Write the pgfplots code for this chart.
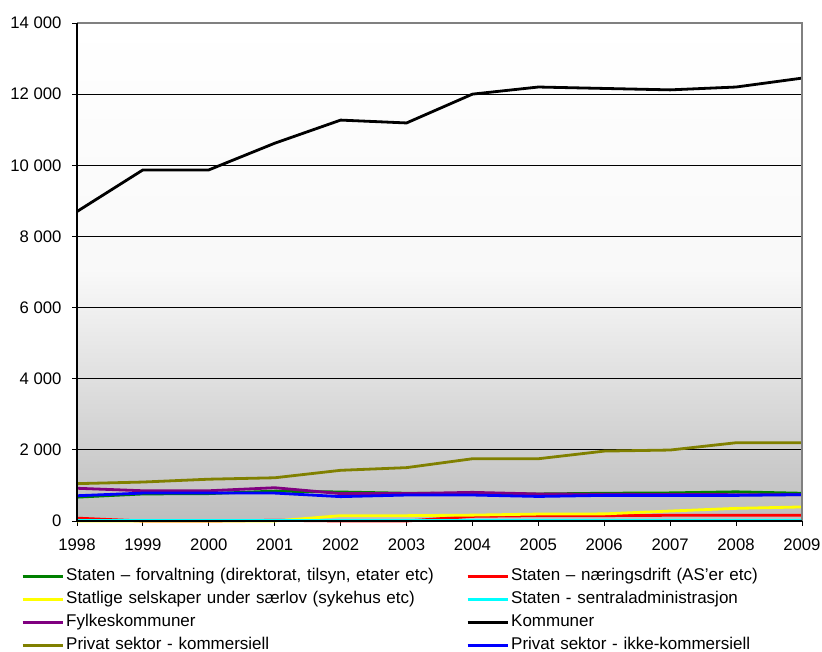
\documentclass[border=0pt]{standalone}
\usepackage{fontspec}
\setmainfont{Liberation Sans}
\usepackage{pgfplots}
\pgfplotsset{compat=1.18}
\definecolor{cgreen}{RGB}{0,128,0}
\definecolor{cred}{RGB}{255,0,0}
\definecolor{cyellow}{RGB}{255,255,0}
\definecolor{ccyan}{RGB}{0,255,255}
\definecolor{cpurple}{RGB}{128,0,128}
\definecolor{colive}{RGB}{128,128,0}
\definecolor{cblue}{RGB}{0,0,255}
\definecolor{bgbot}{RGB}{190,190,190}
\begin{document}
\begin{tikzpicture}
\useasboundingbox (0pt,0pt) rectangle (822pt,652pt);
\begin{axis}[
  at={(77pt,131pt)}, anchor=south west,
  scale only axis, width=725pt, height=498pt,
  xmin=1998, xmax=2009, ymin=0, ymax=14000,
  xtick={1998,...,2009},
  ytick={0,2000,...,14000},
  scaled y ticks=false,
  xticklabel style={/pgf/number format/1000 sep={}, yshift=-9pt},
  yticklabel style={/pgf/number format/1000 sep={\ }, xshift=-7pt},
  /pgf/number format/assume math mode=true,
  ticklabel style={font=\fontsize{16.7}{18}\selectfont},
  tick align=outside, tick pos=left,
  major tick length=5pt,
  tick style={black, line width=0.8pt},
  ymajorgrids, grid style={black, line width=0.8pt},
  axis line style={draw=none},
  axis background/.style={top color=white, bottom color=bgbot, middle color=white!90!bgbot},
  clip=false,
  legend columns=2,
  legend cell align=left,
  legend style={draw=none, fill=none, at={(-0.0814,-0.09)}, anchor=north west,
    font=\fontsize{17}{19}\selectfont, row sep=7pt,
    nodes={text width=380pt, inner xsep=2pt, inner ysep=0pt, text height=12pt, text depth=4pt},
    /tikz/every even column/.append style={column sep=18pt}},
  legend image code/.code={\draw[#1, line width=3pt] (0pt,0pt) -- (40pt,0pt);},
  every axis plot/.append style={line width=2.8pt, line join=round},
]
\addplot[cgreen] coordinates {(1998,670) (1999,760) (2000,770) (2001,840) (2002,815) (2003,780) (2004,770) (2005,760) (2006,780) (2007,790) (2008,820) (2009,780)};
\addlegendentry{Staten – forvaltning (direktorat, tilsyn, etater etc)}
\addplot[cred] coordinates {(1998,80) (1999,0) (2000,0) (2001,20) (2002,0) (2003,0) (2004,130) (2005,150) (2006,150) (2007,160) (2008,160) (2009,160)};
\addlegendentry{Staten – næringsdrift (AS'er etc)}
\addplot[cyellow] coordinates {(1998,0) (1999,0) (2000,0) (2001,0) (2002,150) (2003,150) (2004,165) (2005,195) (2006,200) (2007,280) (2008,355) (2009,395)};
\addlegendentry{Statlige selskaper under særlov (sykehus etc)}
\addplot[ccyan] coordinates {(1998,10) (1999,10) (2000,10) (2001,10) (2002,10) (2003,10) (2004,10) (2005,10) (2006,10) (2007,10) (2008,10) (2009,10)};
\addlegendentry{Staten - sentraladministrasjon}
\addplot[cpurple] coordinates {(1998,920) (1999,850) (2000,850) (2001,935) (2002,770) (2003,770) (2004,805) (2005,760) (2006,750) (2007,745) (2008,740) (2009,740)};
\addlegendentry{Fylkeskommuner}
\addplot[black] coordinates {(1998,8700) (1999,9870) (2000,9870) (2001,10620) (2002,11270) (2003,11190) (2004,12000) (2005,12200) (2006,12160) (2007,12120) (2008,12200) (2009,12450)};
\addlegendentry{Kommuner}
\addplot[colive] coordinates {(1998,1050) (1999,1095) (2000,1175) (2001,1215) (2002,1425) (2003,1500) (2004,1750) (2005,1750) (2006,1965) (2007,1995) (2008,2200) (2009,2200)};
\addlegendentry{Privat sektor - kommersiell}
\addplot[cblue] coordinates {(1998,710) (1999,785) (2000,785) (2001,785) (2002,685) (2003,730) (2004,730) (2005,690) (2006,720) (2007,720) (2008,720) (2009,740)};
\addlegendentry{Privat sektor - ikke-kommersiell}
\end{axis}
\begin{scope}[line width=1.2pt]
\draw[gray] (77pt,629pt) -- (802pt,629pt) -- (802pt,131pt);
\draw[black] (77pt,629pt) -- (77pt,131pt) -- (802pt,131pt);
\end{scope}
\end{tikzpicture}
\end{document}
